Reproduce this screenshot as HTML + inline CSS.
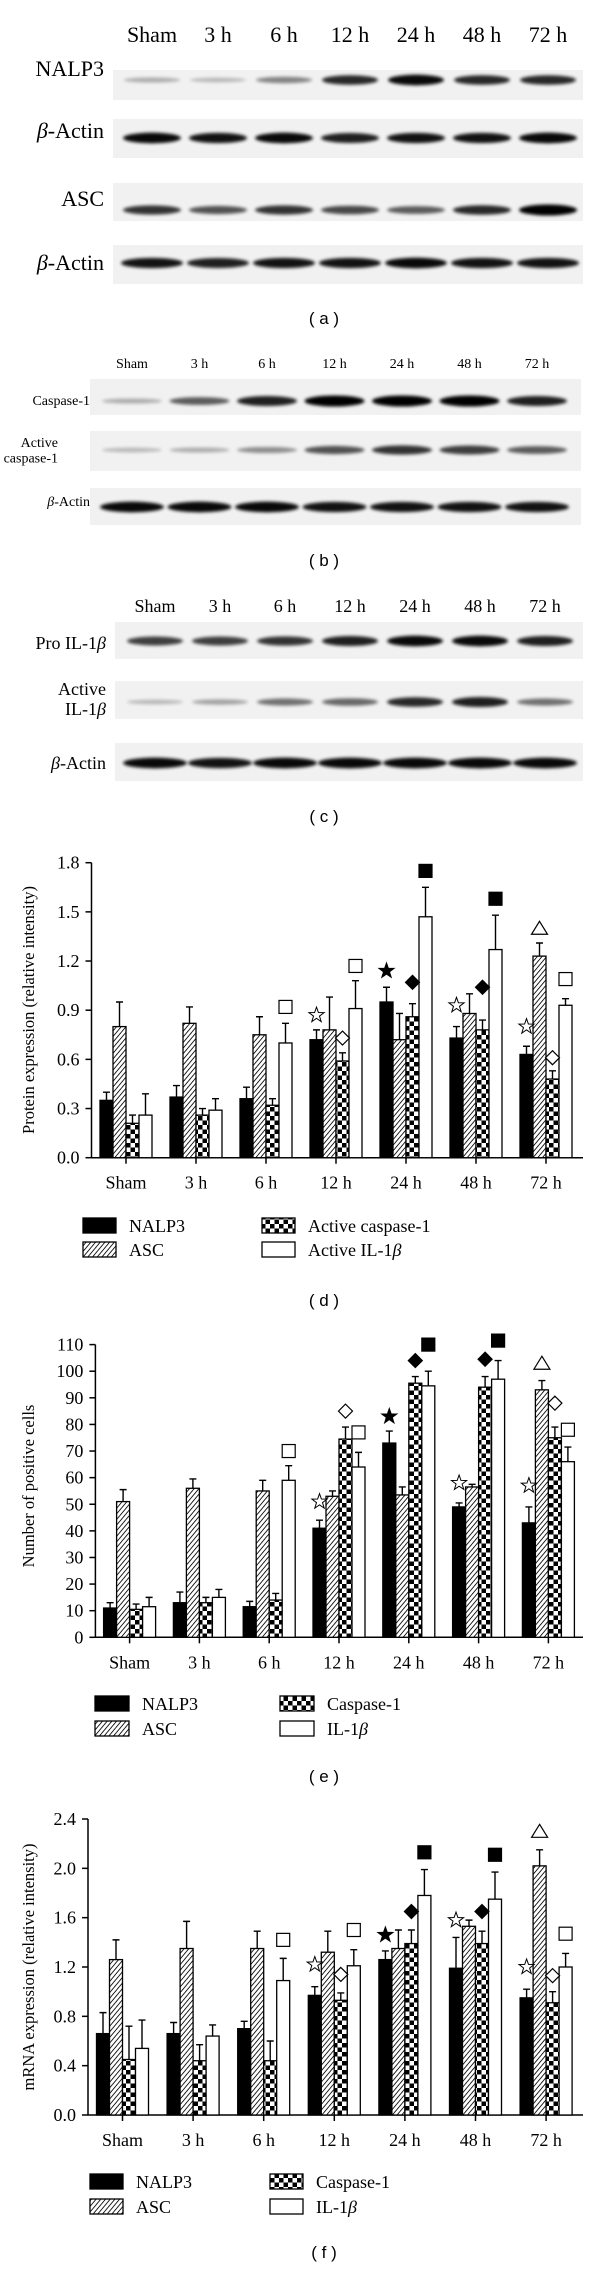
<!DOCTYPE html>
<html><head><meta charset="utf-8"><style>
html,body{margin:0;padding:0;background:#fff;}
svg{display:block;}
.serif{font-family:"Liberation Serif",serif;}
.sans{font-family:"Liberation Sans",sans-serif;}
</style></head><body>
<svg id="fig" xmlns="http://www.w3.org/2000/svg" width="600" height="2269" viewBox="0 0 600 2269">
<defs>
<pattern id="hatch" width="3.6" height="3.6" patternUnits="userSpaceOnUse" patternTransform="rotate(40)"><rect width="3.6" height="3.6" fill="#fff"/><line x1="0" y1="0" x2="0" y2="3.6" stroke="#000" stroke-width="1.7"/></pattern>
<pattern id="checker" width="9" height="9" patternUnits="userSpaceOnUse"><rect width="9" height="9" fill="#fff"/><rect width="4.5" height="4.5" fill="#000"/><rect x="4.5" y="4.5" width="4.5" height="4.5" fill="#000"/></pattern>
<filter id="blur" x="-20%" y="-100%" width="140%" height="300%"><feGaussianBlur stdDeviation="1.6"/></filter>
</defs>
<g id="blots"></g>
<g id="charts"></g>
</svg>
<script>
// ---------- data: blots ----------
const blotLanes = ["Sham","3 h","6 h","12 h","24 h","48 h","72 h"];
const blotA_nalp3 = [0.15,0.1,0.35,0.8,0.95,0.8,0.8];
const blotA_actin1 = [0.95,0.9,0.95,0.85,0.9,0.9,0.95];
const blotA_asc = [0.75,0.6,0.75,0.65,0.55,0.8,1.0];
const blotA_actin2 = [0.9,0.85,0.9,0.9,0.95,0.9,0.9];
const blotB_casp = [0.15,0.55,0.85,1.0,1.0,1.0,0.85];
const blotB_active = [0.1,0.15,0.3,0.6,0.75,0.7,0.55];
const blotB_actin = [0.95,0.95,0.95,0.9,0.9,0.9,0.9];
const blotC_pro = [0.7,0.7,0.75,0.85,0.95,0.95,0.85];
const blotC_active = [0.1,0.2,0.45,0.5,0.8,0.85,0.45];
const blotC_actin = [0.95,0.9,0.95,0.95,0.95,0.95,0.95];

// ---------- data: charts ----------
const categories = ["Sham","3 h","6 h","12 h","24 h","48 h","72 h"];
const dNalp3 = [0.35,0.37,0.36,0.72,0.95,0.73,0.63];
const dNalp3Err = [0.40,0.44,0.43,0.78,1.04,0.80,0.68];
const dAsc = [0.80,0.82,0.75,0.78,0.72,0.88,1.23];
const dAscErr = [0.95,0.92,0.86,0.98,0.88,1.00,1.31];
const dCasp = [0.21,0.26,0.32,0.59,0.86,0.78,0.48];
const dCaspErr = [0.26,0.30,0.36,0.64,0.94,0.84,0.53];
const dIl = [0.26,0.29,0.70,0.91,1.47,1.27,0.93];
const dIlErr = [0.39,0.36,0.82,1.08,1.65,1.48,0.97];
const dMarkCat = [2,3,3,3,4,4,4,5,5,5,6,6,6,6];
const dMarkSer = [3,0,2,3,0,2,3,0,2,3,0,1,2,3];
const dMarkType = ["osq","ostar","odia","osq","fstar","fdia","fsq","ostar","fdia","fsq","ostar","tri","odia","osq"];
const dMarkVal = [0.92,0.87,0.73,1.17,1.14,1.07,1.75,0.93,1.04,1.58,0.80,1.40,0.61,1.09];
const dTicks = ["0.0","0.3","0.6","0.9","1.2","1.5","1.8"];

const eNalp3 = [11,13,11.5,41,73,49,43];
const eNalp3Err = [13,17,13.5,44,77.5,50.5,49];
const eAsc = [51,56,55,53,53.5,56.5,93];
const eAscErr = [55.5,59.5,59,55,56.5,57.5,96.5];
const eCasp = [10.5,13,14,74.5,95.5,94,75];
const eCaspErr = [12.5,15,16.5,79,98,98,79];
const eIl = [11.5,15,59,64,94.5,97,66];
const eIlErr = [15,18,64.5,69.5,100,104,71.5];
const eMarkCat = [2,3,3,3,4,4,4,5,5,5,6,6,6,6];
const eMarkSer = [3,0,2,3,0,2,3,0,2,3,0,1,2,3];
const eMarkType = ["osq","ostar","odia","osq","fstar","fdia","fsq","ostar","fdia","fsq","ostar","tri","odia","osq"];
const eMarkVal = [70,51,85,77,83,104,110,58,104.5,111.5,57,103,88,78];
const eTicks = ["0","10","20","30","40","50","60","70","80","90","100","110"];

const fNalp3 = [0.66,0.66,0.70,0.97,1.26,1.19,0.95];
const fNalp3Err = [0.83,0.75,0.76,1.04,1.33,1.44,1.02];
const fAsc = [1.26,1.35,1.35,1.32,1.35,1.53,2.02];
const fAscErr = [1.42,1.57,1.49,1.49,1.50,1.58,2.15];
const fCasp = [0.45,0.44,0.44,0.93,1.39,1.39,0.91];
const fCaspErr = [0.72,0.57,0.60,0.99,1.50,1.49,1.00];
const fIl = [0.54,0.64,1.09,1.21,1.78,1.75,1.20];
const fIlErr = [0.77,0.73,1.27,1.34,1.99,1.97,1.31];
const fMarkCat = [2,3,3,3,4,4,4,5,5,5,6,6,6,6];
const fMarkSer = [3,0,2,3,0,2,3,0,2,3,0,1,2,3];
const fMarkType = ["osq","ostar","odia","osq","fstar","fdia","fsq","ostar","fdia","fsq","ostar","tri","odia","osq"];
const fMarkVal = [1.42,1.22,1.14,1.50,1.46,1.65,2.13,1.58,1.65,2.11,1.20,2.30,1.13,1.47];
const fTicks = ["0.0","0.4","0.8","1.2","1.6","2.0","2.4"];

const NS="http://www.w3.org/2000/svg";
function mk(tag, attrs, parent){const e=document.createElementNS(NS,tag);for(const k in attrs)e.setAttribute(k,attrs[k]);parent.appendChild(e);return e;}
const blots=document.getElementById('blots');
const charts=document.getElementById('charts');

function txt(parent,x,y,s,size,anchor,cls,name){
  const t=mk('text',{x:x,y:y,'font-size':size,'text-anchor':anchor,class:cls,fill:'#000'},parent);
  
  
  t.innerHTML=s;return t;
}

// ---------- blots ----------
function blotHeader(y,x0,step,size,name){
  blotLanes.forEach((l,i)=>{txt(blots,x0+i*step,y,l,size,'middle','serif',name);});
}
function blotRow(label,labelLines,labelX,labelY,labelSize,sx0,sx1,sy0,sy1,bandY,x0,step,vals,hw,name){
  const g=mk('g',{},blots);
  
  
  mk('rect',{x:sx0,y:sy0,width:sx1-sx0,height:sy1-sy0,fill:'#f1f1f1'},g);
  vals.forEach((v,i)=>{
    const b=mk('ellipse',{cx:x0+i*step,cy:bandY,rx:hw,ry:2+v*3.5,fill:'#000',opacity:(0.15+0.85*v).toFixed(2),filter:'url(#blur)'},g);
    
    
  });
  labelLines.forEach((s,k)=>{txt(blots,labelX,labelY+k*labelSize*1.1,s,labelSize,'end','serif',name+'-label');});
}
const B='<tspan font-style="italic">β</tspan>';
// (a)
blotHeader(42,152,66,22,'blot-a-lane-label');
blotRow('NALP3',['NALP3'],104,76,22,113,583,70,100,80,152,66,blotA_nalp3,28,'blot-a-nalp3');
blotRow('actin',[B+'-Actin'],104,138,22,113,583,119,158,138,152,66,blotA_actin1,29,'blot-a-actin-1');
blotRow('ASC',['ASC'],104,206,22,113,583,183,221,210,152,66,blotA_asc,29,'blot-a-asc');
blotRow('actin',[B+'-Actin'],104,270,22,113,583,245,284,263,152,66,blotA_actin2,31,'blot-a-actin-2');
txt(blots,324,324,'( a )',17,'middle','sans','panel-label-a');
// (b)
blotHeader(368,132,67.5,14,'blot-b-lane-label');
blotRow('casp',['Caspase-1'],90,405,14,90,581,379,415,401,132,67.5,blotB_casp,30,'blot-b-caspase-1');
blotRow('active',['Active','caspase-1'],58,447,14,90,581,431,471,450,132,67.5,blotB_active,30,'blot-b-active-caspase-1');
blotRow('actin',[B+'-Actin'],90,506,14,90,581,488,525,507,132,67.5,blotB_actin,32,'blot-b-actin');
txt(blots,324,566,'( b )',17,'middle','sans','panel-label-b');
// (c)
blotHeader(612,155,65,18,'blot-c-lane-label');
blotRow('pro',['Pro IL-1'+B],106,649,18,115,583,622,659,641,155,65,blotC_pro,28,'blot-c-pro-il1b');
blotRow('active',['Active','IL-1'+B],106,695,18,115,583,681,719,702,155,65,blotC_active,28,'blot-c-active-il1b');
blotRow('actin',[B+'-Actin'],106,769,18,115,583,743,781,763,155,65,blotC_actin,32,'blot-c-actin');
txt(blots,324,822,'( c )',17,'middle','sans','panel-label-c');

// ---------- bar charts ----------
const fills=['#000','url(#hatch)','url(#checker)','#fff'];
function marker(g,type,cx,cy){
  let el;const s=6.5;
  const filled=type[0]==='f';
  const f=filled?'#000':'#fff';
  if(type.endsWith('sq')) el=mk('rect',{x:cx-s,y:cy-s,width:2*s,height:2*s,fill:f,stroke:'#000','stroke-width':1.2},g);
  else if(type.endsWith('dia')) el=mk('polygon',{points:`${cx},${cy-7} ${cx+7},${cy} ${cx},${cy+7} ${cx-7},${cy}`,fill:f,stroke:'#000','stroke-width':1.2},g);
  else if(type==='tri') el=mk('polygon',{points:`${cx},${cy-7} ${cx+8},${cy+6} ${cx-8},${cy+6}`,fill:'#fff',stroke:'#000','stroke-width':1.2},g);
  else {let p=[];for(let k=0;k<10;k++){const r=k%2?3.2:8;const a=-Math.PI/2+k*Math.PI/5;p.push((cx+r*Math.cos(a)).toFixed(1)+','+(cy+r*Math.sin(a)).toFixed(1));}
    el=mk('polygon',{points:p.join(' '),fill:f,stroke:'#000','stroke-width':1},g);}
  
  
}
function chart(o){
  const g=mk('g',{},charts);
  
  
  const yS=v=>o.y0-(v/o.max)*(o.y0-o.yTop);
  const xS=i=>o.cx0+i*o.step;
  const bw=13;
  // axes
  const ya=mk('line',{x1:o.ax,y1:o.yTop,x2:o.ax,y2:o.y0,stroke:'#000','stroke-width':1.5},g);
  
  
  const xa=mk('line',{x1:o.ax,y1:o.y0,x2:583,y2:o.y0,stroke:'#000','stroke-width':1.5},g);
  
  
  o.ticks.forEach((t,k)=>{const v=k*o.max/(o.ticks.length-1);const y=yS(v);
    mk('line',{x1:o.ax-6,y1:y,x2:o.ax,y2:y,stroke:'#000','stroke-width':1.5},g);
    txt(g,o.ax-12,y+6,t,18,'end','serif','y-tick-label');});
  categories.forEach((c,i)=>{
    mk('line',{x1:xS(i),y1:o.y0,x2:xS(i),y2:o.y0+6,stroke:'#000','stroke-width':1.5},g);
    txt(g,xS(i),o.y0+31,c,18,'middle','serif','x-tick-label');});
  const t=txt(g,0,0,o.title,16.5,'middle','serif','y-axis-title');
  t.setAttribute('transform',`translate(${o.titleX},${o.titleY}) rotate(-90)`);
  // bars
  o.series.forEach((s,si)=>{
    s.forEach((v,i)=>{
      const x=xS(i)-2*bw+si*bw;
      const r=mk('rect',{x:x,y:yS(v),width:bw,height:o.y0-yS(v),fill:fills[si],stroke:'#000','stroke-width':1.3},g);
      
      
      const e=o.errs[si][i];const cx=x+bw/2;
      const l=mk('path',{d:`M${cx},${yS(v)}V${yS(e)}M${cx-3.5},${yS(e)}H${cx+3.5}`,stroke:'#000','stroke-width':1.4,fill:'none'},g);
      
      
    });
  });
  o.mCat.forEach((c,k)=>{const cx=xS(c)-2*bw+o.mSer[k]*bw+bw/2;marker(g,o.mType[k],cx,yS(o.mVal[k]));});
  // legend
  const L=o.leg;
  const rows=[[L.x1,L.y1,0],[L.x1,L.y2,1],[L.x2,L.y1,2],[L.x2,L.y2,3]];
  rows.forEach(([x,y,si])=>{
    const r=mk('rect',{x:x,y:y-8,width:L.w,height:15,fill:fills[si],stroke:'#000','stroke-width':1.3},g);
    
    
    txt(g,x+L.w+13,y+6,o.labels[si],18,'start','serif','legend-entry');
  });
  txt(g,324,o.panelY,o.panel,17,'middle','sans','panel-label');
}
chart({name:'chart-d',ax:91.5,y0:1157.7,yTop:862.7,max:1.8,cx0:126,step:70,ticks:dTicks,
  title:'Protein expression (relative intensity)',titleX:34,titleY:1010,
  series:[dNalp3,dAsc,dCasp,dIl],errs:[dNalp3Err,dAscErr,dCaspErr,dIlErr],names:['nalp3','asc','caspase','il1b'],
  mCat:dMarkCat,mSer:dMarkSer,mType:dMarkType,mVal:dMarkVal,
  leg:{x1:83,x2:262,y1:1226,y2:1250,w:33},labels:['NALP3','ASC','Active caspase-1','Active IL-1'+B],panel:'( d )',panelY:1306});
chart({name:'chart-e',ax:95.4,y0:1637.3,yTop:1344.6,max:110,cx0:129.6,step:69.8,ticks:eTicks,
  title:'Number of positive cells',titleX:34,titleY:1486,
  series:[eNalp3,eAsc,eCasp,eIl],errs:[eNalp3Err,eAscErr,eCaspErr,eIlErr],names:['nalp3','asc','caspase','il1b'],
  mCat:eMarkCat,mSer:eMarkSer,mType:eMarkType,mVal:eMarkVal,
  leg:{x1:95,x2:280,y1:1704,y2:1729,w:34},labels:['NALP3','ASC','Caspase-1','IL-1'+B],panel:'( e )',panelY:1782});
chart({name:'chart-f',ax:88,y0:2115,yTop:1819,max:2.4,cx0:122.5,step:70.6,ticks:fTicks,
  title:'mRNA expression (relative intensity)',titleX:34,titleY:1967,
  series:[fNalp3,fAsc,fCasp,fIl],errs:[fNalp3Err,fAscErr,fCaspErr,fIlErr],names:['nalp3','asc','caspase','il1b'],
  mCat:fMarkCat,mSer:fMarkSer,mType:fMarkType,mVal:fMarkVal,
  leg:{x1:90,x2:270,y1:2182,y2:2207,w:33},labels:['NALP3','ASC','Caspase-1','IL-1'+B],panel:'( f )',panelY:2258});
</script>
</body></html>
